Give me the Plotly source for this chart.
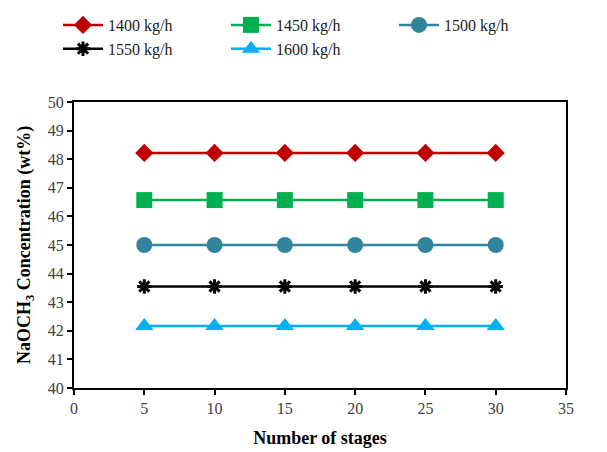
import plotly.graph_objects as go

stages = [5, 10, 15, 20, 25, 30]
s1400 = [48.22, 48.22, 48.22, 48.22, 48.22, 48.22]
s1450 = [46.57, 46.57, 46.57, 46.57, 46.57, 46.57]
s1500 = [45.0, 45.0, 45.0, 45.0, 45.0, 45.0]
s1550 = [43.55, 43.55, 43.55, 43.55, 43.55, 43.55]
s1600 = [42.17, 42.17, 42.17, 42.17, 42.17, 42.17]
names = ["1400 kg/h", "1450 kg/h", "1500 kg/h", "1550 kg/h", "1600 kg/h"]

FONT = "Liberation Serif"
W, H = 599, 444
L, R, T, B = 66, 41, 94, 64
PW = W - L - R
fig = go.Figure()
specs = [
    (s1400, "#C00000", "diamond", 14, None, "legend"),
    (s1450, "#00B050", "square", 16, None, "legend2"),
    (s1500, "#31849B", "circle", 16, None, "legend3"),
    (s1550, "#000000", "asterisk-open", 12, 3, "legend"),
    (s1600, "#00B0F0", "triangle-up", 16, None, "legend2"),
]
for (vals, col, sym, sz, lw, lg), nm in zip(specs, names):
    marker = dict(symbol=sym, size=sz, color=col)
    if lw:
        marker["line"] = dict(color=col, width=lw)
    else:
        marker["line"] = dict(width=0)
    fig.add_trace(go.Scatter(x=stages, y=vals, name=nm, mode="lines+markers",
                             line=dict(color=col, width=2.5), marker=marker, legend=lg))

axis_common = dict(showline=True, linecolor="black", linewidth=2, mirror=True,
                   ticks="outside", ticklen=5, tickwidth=1.5, tickcolor="black",
                   showgrid=False, zeroline=False,
                   tickfont=dict(family=FONT, size=16, color="#404040"))
fig.update_xaxes(range=[0, 35], dtick=5,
                 title=dict(text="<b>Number of stages</b>", font=dict(family=FONT, size=18, color="black"), standoff=15),
                 **axis_common)
fig.update_yaxes(range=[40, 50], dtick=1, **axis_common)

fig.add_annotation(text="<b>NaOCH<sub>3</sub> Concentration (wt%)</b>",
                   xref="paper", yref="paper", x=(17 - L) / PW, y=0.5,
                   xanchor="center", yanchor="middle", textangle=-90, showarrow=False,
                   font=dict(family=FONT, size=18, color="black"))

def leg(xpx):
    return dict(orientation="v", x=xpx / W, xref="container", y=1.0, yref="container",
                xanchor="left", yanchor="top", bgcolor="rgba(0,0,0,0)",
                font=dict(family=FONT, size=16, color="#222"),
                tracegroupgap=0, itemwidth=40)

fig.update_layout(
    width=W, height=H,
    margin=dict(l=L, r=R, t=T, b=B, autoexpand=False),
    plot_bgcolor="white", paper_bgcolor="white",
    font=dict(family=FONT),
    legend=leg(50), legend2=leg(218), legend3=leg(386),
    showlegend=True,
)
fig.write_html("out.html")
